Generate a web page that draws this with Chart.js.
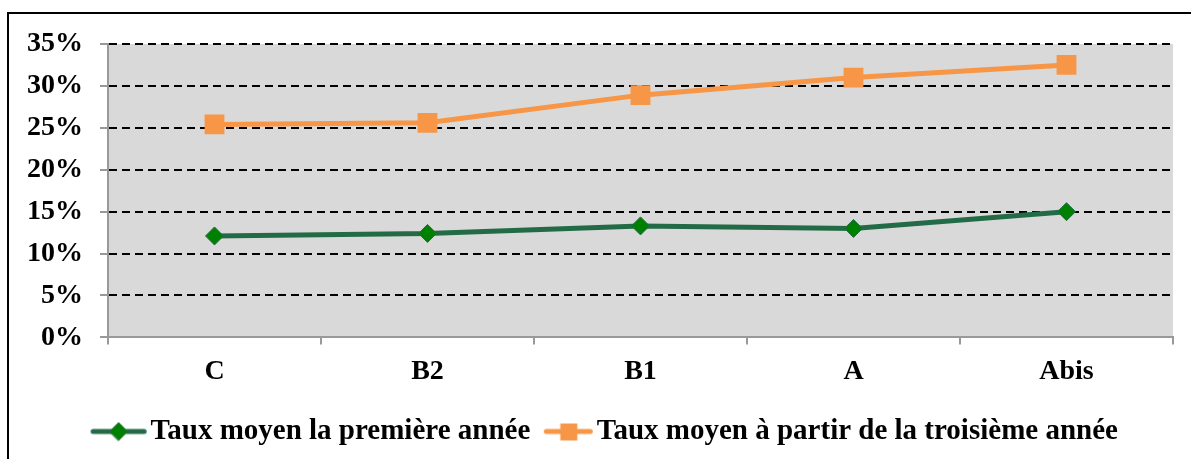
<!DOCTYPE html>
<html>
<head>
<meta charset="utf-8">
<script src="https://cdn.jsdelivr.net/npm/chart.js@4.4.1/dist/chart.umd.min.js"></script>
<style>
  html, body { margin: 0; padding: 0; background: #fff; }
  #wrap { width: 1191px; height: 459px; position: relative; }
</style>
</head>
<body>
<div id="wrap"><canvas id="tauxChart"></canvas></div>
<script>
const categories = ['C', 'B2', 'B1', 'A', 'Abis'];
const premiereAnnee = [12.1, 12.4, 13.3, 13.0, 15.0];
const troisiemeAnnee = [25.4, 25.6, 28.9, 31.0, 32.5];
const seriesLabels = ['Taux moyen la première année', 'Taux moyen à partir de la troisième année'];
const yTicks = [0, 5, 10, 15, 20, 25, 30, 35];

const serifFont = "'Liberation Serif', 'DejaVu Serif', serif";

// small canvas used as legend symbol: line with the marker in the middle
function legendSymbol(lineColor, lineLen, shift, drawMarker) {
    const c = document.createElement('canvas');
    c.width = 64;
    c.height = 22;
    const g = c.getContext('2d');
    const cx = 32 + shift;
    g.strokeStyle = lineColor;
    g.lineWidth = 5;
    g.lineCap = 'round';
    g.beginPath();
    g.moveTo(cx - lineLen / 2 + 2.5, 11);
    g.lineTo(cx + lineLen / 2 - 2.5, 11);
    g.stroke();
    drawMarker(g, cx, 11);
    return c;
}

const greenSymbol = legendSymbol('#236b46', 56, 0, function(g, x, y) {
    g.fillStyle = '#008000';
    g.strokeStyle = '#236b46';
    g.lineWidth = 1;
    g.beginPath();
    g.moveTo(x - 9, y);
    g.lineTo(x, y - 9);
    g.lineTo(x + 9, y);
    g.lineTo(x, y + 9);
    g.closePath();
    g.fill();
    g.stroke();
});

const orangeSymbol = legendSymbol('#f79646', 49, 3.5, function(g, x, y) {
    g.fillStyle = '#f79646';
    g.fillRect(x - 8, y - 8, 17, 17);
});

const frameAndBackground = {
    id: 'frameAndBackground',
    afterLayout(chart) {
        // legend sits a bit right of the canvas centre in the original
        chart.legend.left += 18;
        chart.legend.right += 18;
    },
    beforeDraw(chart) {
        const { ctx, chartArea } = chart;
        ctx.save();
        ctx.fillStyle = '#d9d9d9';
        ctx.fillRect(chartArea.left, chartArea.top, chartArea.right - chartArea.left, chartArea.bottom - chartArea.top);
        ctx.strokeStyle = '#000';
        ctx.lineWidth = 2;
        ctx.beginPath();
        ctx.moveTo(8, chart.height + 2);
        ctx.lineTo(8, 13);
        ctx.lineTo(chart.width + 2, 13);
        ctx.stroke();
        ctx.restore();
    }
};

const ctx = document.getElementById('tauxChart').getContext('2d');
const tauxChart = new Chart(ctx, {
    type: 'line',
    data: {
        labels: categories,
        datasets: [{
            label: seriesLabels[0],
            data: premiereAnnee,
            borderColor: '#236b46',
            borderWidth: 5,
            backgroundColor: '#008000',
            pointStyle: 'rectRot',
            pointRadius: 9,
            pointHoverRadius: 9,
            pointBorderColor: '#236b46',
            pointBorderWidth: 1,
            pointBackgroundColor: '#008000',
            tension: 0
        }, {
            label: seriesLabels[1],
            data: troisiemeAnnee,
            borderColor: '#f79646',
            borderWidth: 5,
            backgroundColor: '#f79646',
            pointStyle: 'rect',
            pointRadius: 14,
            pointHoverRadius: 14,
            pointBorderWidth: 0,
            pointBackgroundColor: '#f79646',
            tension: 0
        }]
    },
    options: {
        responsive: true,
        maintainAspectRatio: false,
        animation: false,
        layout: {
            padding: { left: 10, right: 18, top: 44, bottom: 3 }
        },
        scales: {
            x: {
                offset: true,
                grid: {
                    offset: true,
                    drawOnChartArea: false,
                    tickLength: 7,
                    tickColor: '#999',
                    lineWidth: 2
                },
                border: { color: '#999', width: 2 },
                ticks: {
                    color: '#000',
                    padding: 11,
                    font: { family: serifFont, size: 28, weight: 'bold' }
                }
            },
            y: {
                min: 0,
                max: 35,
                afterBuildTicks: function(scale) {
                    scale.ticks = yTicks.map(v => ({ value: v }));
                },
                grid: {
                    color: function(c) { return c.tick && c.tick.value === 0 ? 'rgba(0,0,0,0)' : '#000'; },
                    lineWidth: 2,
                    tickColor: '#999',
                    tickLength: 8
                },
                border: { color: '#999', width: 2, dash: [8, 5] },
                ticks: {
                    color: '#000',
                    padding: 17,
                    font: { family: serifFont, size: 28, weight: 'bold' },
                    callback: function(v) { return v + '%'; }
                }
            }
        },
        plugins: {
            legend: {
                display: true,
                position: 'bottom',
                labels: {
                    usePointStyle: true,
                    pointStyleWidth: 35,
                    padding: 17,
                    color: '#000',
                    font: { family: serifFont, size: 29, weight: 'bold' },
                    generateLabels: function(chart) {
                        return chart.data.datasets.map((ds, i) => ({
                            text: ds.label,
                            pointStyle: i === 0 ? greenSymbol : orangeSymbol,
                            fillStyle: ds.borderColor,
                            strokeStyle: ds.borderColor,
                            lineWidth: 0,
                            hidden: false,
                            datasetIndex: i
                        }));
                    }
                }
            },
            tooltip: { enabled: false }
        }
    },
    plugins: [frameAndBackground]
});
</script>
</body>
</html>
